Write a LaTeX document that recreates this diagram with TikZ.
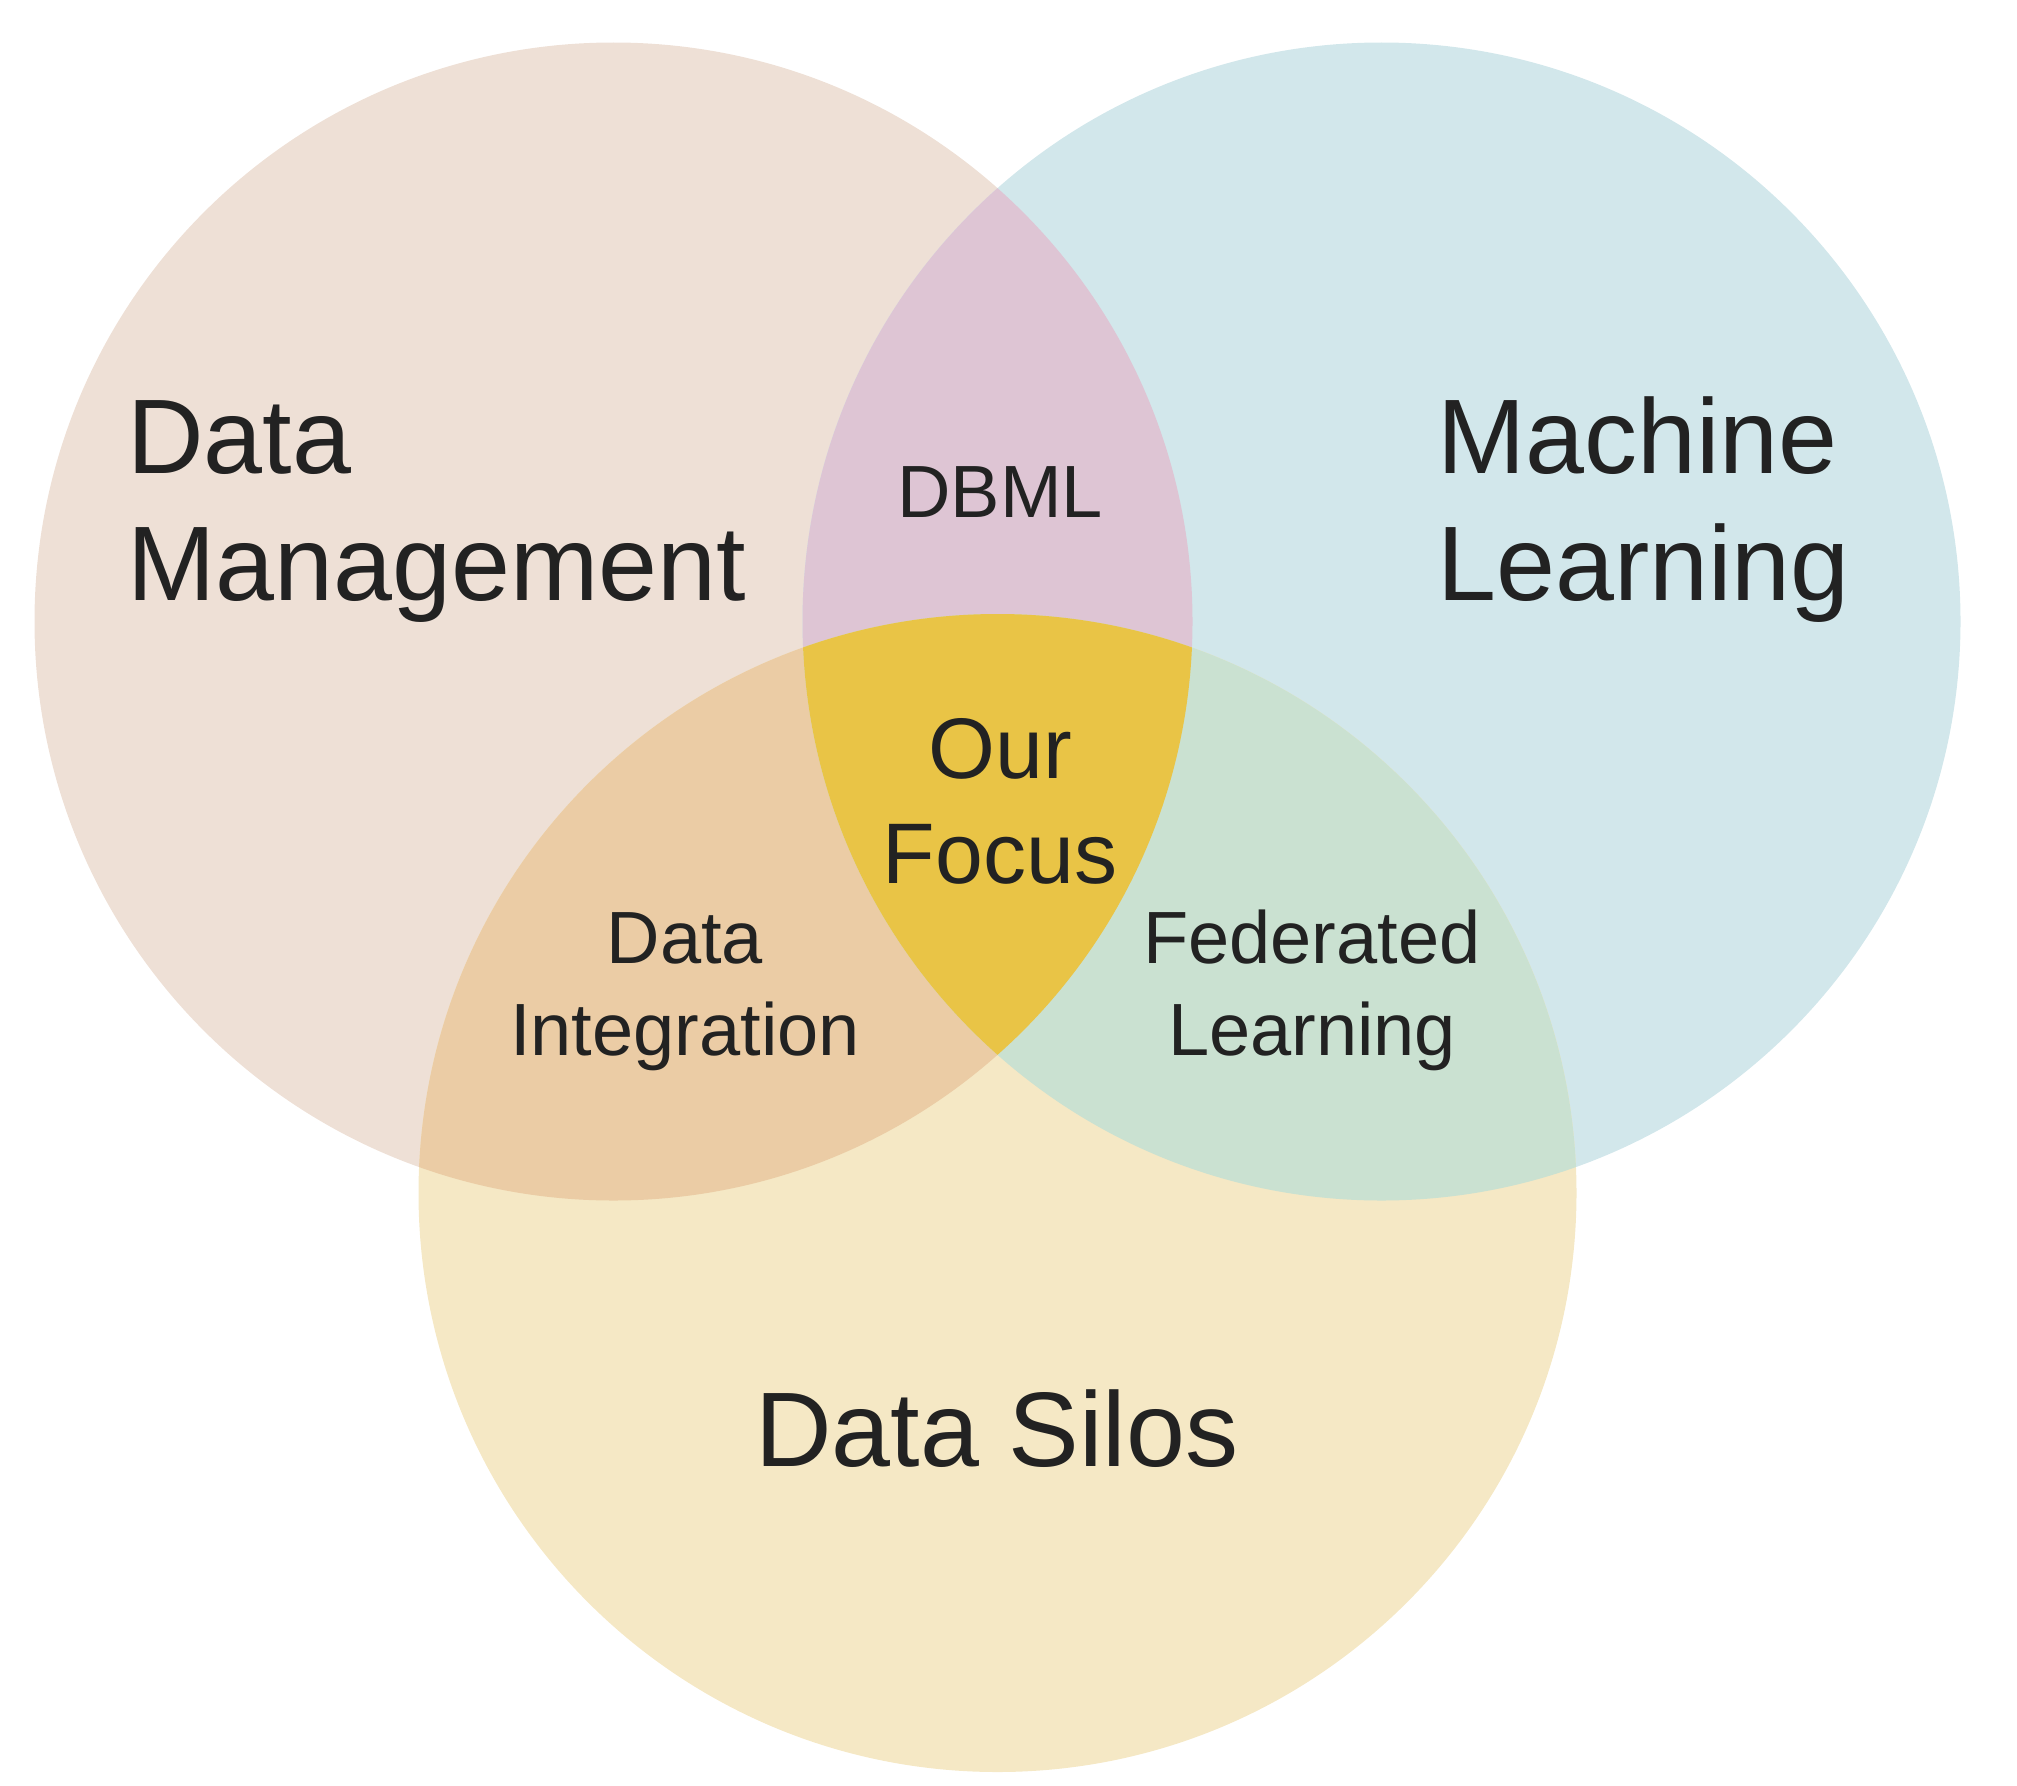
\documentclass[tikz,border=0pt]{standalone}
\usepackage{fontspec}
\setmainfont{Liberation Sans}

\definecolor{dmcolor}{HTML}{EEE0D6}
\definecolor{mlcolor}{HTML}{D2E7EB}
\definecolor{dscolor}{HTML}{F5E8C5}
\definecolor{dbmlcolor}{HTML}{DEC5D4}
\definecolor{dicolor}{HTML}{EBCCA5}
\definecolor{flcolor}{HTML}{CAE1D1}
\definecolor{focuscolor}{HTML}{E9C446}
\definecolor{textgray}{HTML}{222222}

\begin{document}
\begin{tikzpicture}[
    x=1pt, y=-1pt,
    every node/.style={
        inner sep=0pt,
        text=textgray,
    },
    biglabel/.style={font=\fontsize{106}{127}\selectfont, align=left, anchor=base west},
    midlabel/.style={font=\fontsize{86}{105}\selectfont, align=center, anchor=base},
    smalllabel/.style={font=\fontsize{74}{92}\selectfont, align=center, anchor=base},
    venn/.style={radius=579pt}
]

\useasboundingbox (0,0) rectangle (2017,1785);

\coordinate (dm) at (613.5,621.5);
\coordinate (ml) at (1381.5,621.5);
\coordinate (ds) at (997.5,1193);

% the three sets
\fill[dmcolor] (dm) circle[venn];
\fill[mlcolor] (ml) circle[venn];
\fill[dscolor] (ds) circle[venn];

% pairwise overlaps
\begin{scope}
    \clip (dm) circle[venn];
    \fill[dbmlcolor] (ml) circle[venn];
    \fill[dicolor] (ds) circle[venn];
\end{scope}
\begin{scope}
    \clip (ml) circle[venn];
    \fill[flcolor] (ds) circle[venn];
\end{scope}

% centre
\begin{scope}
    \clip (dm) circle[venn];
    \clip (ml) circle[venn];
    \fill[focuscolor] (ds) circle[venn];
\end{scope}

% anchors sit on the last line's baseline
\node (dm_label) [biglabel] at (127,600) {Data\\Management};
\node (ml_label) [biglabel] at (1437,600) {Machine\\Learning};
\node (ds_label) [biglabel, anchor=base] at (997,1466) {Data Silos};
\node (dbml_label) [smalllabel] at (1000,517) {DBML};
\node (focus_label) [midlabel] at (1000,883) {Our\\Focus};
\node (di_label) [smalllabel] at (685,1055) {Data\\Integration};
\node (fl_label) [smalllabel] at (1312,1055) {Federated\\Learning};

\end{tikzpicture}
\end{document}
